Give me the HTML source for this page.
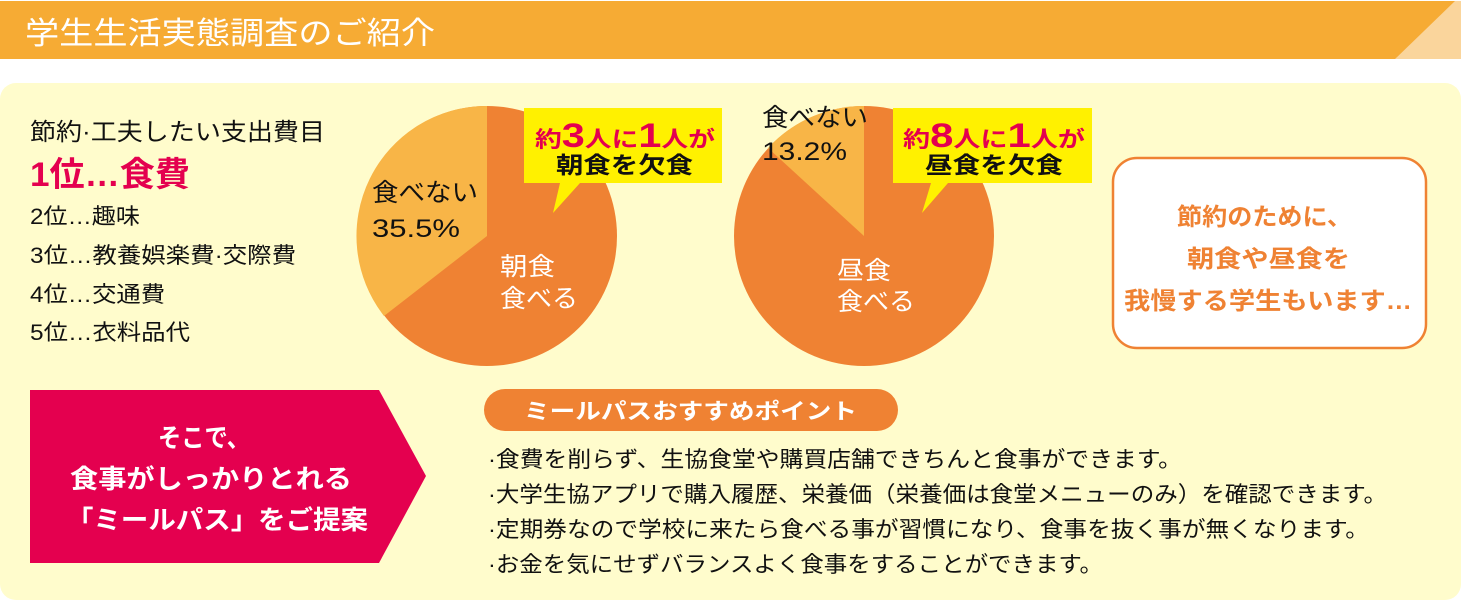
<!DOCTYPE html>
<html><head><meta charset="utf-8"><style>
html,body{margin:0;padding:0;background:#fff;}
svg{display:block;font-family:"Liberation Sans","Noto Sans CJK JP",sans-serif;}
</style></head><body>
<svg width="1461" height="603" viewBox="0 0 1461 603" xmlns="http://www.w3.org/2000/svg">
<rect x="0" y="1" width="1461" height="58" fill="#f6ab34"/>
<polygon points="1455,1 1461,1 1461,59 1395,59" fill="#fad59c"/>
<text x="25" y="44" font-size="31" fill="#fff" textLength="410" lengthAdjust="spacingAndGlyphs">学生生活実態調査のご紹介</text>
<rect x="0" y="83" width="1461" height="517" rx="16" fill="#fffccc"/>

<text x="30" y="140" font-size="24" fill="#111" textLength="295" lengthAdjust="spacingAndGlyphs">節約·工夫したい支出費目</text>
<text x="30" y="186" font-size="34" font-weight="bold" fill="#e4004f" textLength="160" lengthAdjust="spacingAndGlyphs">1位…食費</text>
<g font-size="22" fill="#111">
<text x="30" y="224" textLength="110" lengthAdjust="spacingAndGlyphs">2位…趣味</text>
<text x="30" y="263" textLength="266" lengthAdjust="spacingAndGlyphs">3位…教養娯楽費·交際費</text>
<text x="30" y="302" textLength="135" lengthAdjust="spacingAndGlyphs">4位…交通費</text>
<text x="30" y="340" textLength="160" lengthAdjust="spacingAndGlyphs">5位…衣料品代</text>
</g>

<circle cx="487" cy="236" r="130" fill="#ef8233"/>
<path d="M487,236 L487,106 A130,130 0 0 0 384,316 Z" fill="#f8b547"/>
<circle cx="864" cy="236" r="130" fill="#ef8233"/>
<path d="M864,236 L864,106 A130,130 0 0 0 768,148 Z" fill="#f8b547"/>

<g font-size="25" fill="#111">
<text x="372" y="201" textLength="106" lengthAdjust="spacingAndGlyphs">食べない</text>
<text x="372" y="237" textLength="88" lengthAdjust="spacingAndGlyphs">35.5%</text>
<text x="762" y="126" textLength="106" lengthAdjust="spacingAndGlyphs">食べない</text>
<text x="762" y="160" textLength="85" lengthAdjust="spacingAndGlyphs">13.2%</text>
</g>
<g font-size="25" fill="#fff">
<text x="500" y="275" textLength="55" lengthAdjust="spacingAndGlyphs">朝食</text>
<text x="500" y="307" textLength="78" lengthAdjust="spacingAndGlyphs">食べる</text>
<text x="837" y="279" textLength="54" lengthAdjust="spacingAndGlyphs">昼食</text>
<text x="837" y="310" textLength="78" lengthAdjust="spacingAndGlyphs">食べる</text>
</g>

<polygon points="524,108 722,108 722,183 580,183 553,213 560,183 524,183" fill="#fff100"/>
<polygon points="893,108 1092,108 1092,183 948,183 922,213 931,183 893,183" fill="#fff100"/>
<text x="535" y="147" fill="#e4004f" font-weight="bold" textLength="180" lengthAdjust="spacingAndGlyphs"><tspan font-size="22">約</tspan><tspan font-size="34">3</tspan><tspan font-size="22">人に</tspan><tspan font-size="34">1</tspan><tspan font-size="22">人が</tspan></text>
<text x="556" y="173" font-size="23" font-weight="bold" fill="#111" textLength="137" lengthAdjust="spacingAndGlyphs">朝食を欠食</text>
<text x="903" y="147" fill="#e4004f" font-weight="bold" textLength="182" lengthAdjust="spacingAndGlyphs"><tspan font-size="22">約</tspan><tspan font-size="34">8</tspan><tspan font-size="22">人に</tspan><tspan font-size="34">1</tspan><tspan font-size="22">人が</tspan></text>
<text x="925" y="173" font-size="23" font-weight="bold" fill="#111" textLength="138" lengthAdjust="spacingAndGlyphs">昼食を欠食</text>

<rect x="1113" y="158" width="313" height="190" rx="24" fill="#fff" stroke="#ef8233" stroke-width="2.5"/>
<g font-size="24" font-weight="bold" fill="#ef8233">
<text x="1177" y="225" textLength="175" lengthAdjust="spacingAndGlyphs">節約のために、</text>
<text x="1187" y="267" textLength="163" lengthAdjust="spacingAndGlyphs">朝食や昼食を</text>
<text x="1124" y="309" textLength="288" lengthAdjust="spacingAndGlyphs">我慢する学生もいます…</text>
</g>

<polygon points="30,390 379,390 426,476 379,563 30,563" fill="#e4004f"/>
<g font-size="26" font-weight="bold" fill="#fff">
<text x="158" y="447" textLength="92" lengthAdjust="spacingAndGlyphs">そこで、</text>
<text x="70" y="488" textLength="282" lengthAdjust="spacingAndGlyphs">食事がしっかりとれる</text>
<text x="66" y="529" textLength="302" lengthAdjust="spacingAndGlyphs">「ミールパス」をご提案</text>
</g>

<rect x="484" y="389" width="414" height="42" rx="21" fill="#ef8233"/>
<text x="524" y="419" font-size="22" font-weight="bold" fill="#fff" textLength="333" lengthAdjust="spacingAndGlyphs">ミールパスおすすめポイント</text>
<g font-size="22" fill="#111">
<text x="488" y="467" textLength="694" lengthAdjust="spacingAndGlyphs">·食費を削らず、生協食堂や購買店舗できちんと食事ができます。</text>
<text x="488" y="502" textLength="899" lengthAdjust="spacingAndGlyphs">·大学生協アプリで購入履歴、栄養価（栄養価は食堂メニューのみ）を確認できます。</text>
<text x="488" y="537" textLength="881" lengthAdjust="spacingAndGlyphs">·定期券なので学校に来たら食べる事が習慣になり、食事を抜く事が無くなります。</text>
<text x="488" y="572" textLength="615" lengthAdjust="spacingAndGlyphs">·お金を気にせずバランスよく食事をすることができます。</text>
</g>
</svg>
</body></html>
